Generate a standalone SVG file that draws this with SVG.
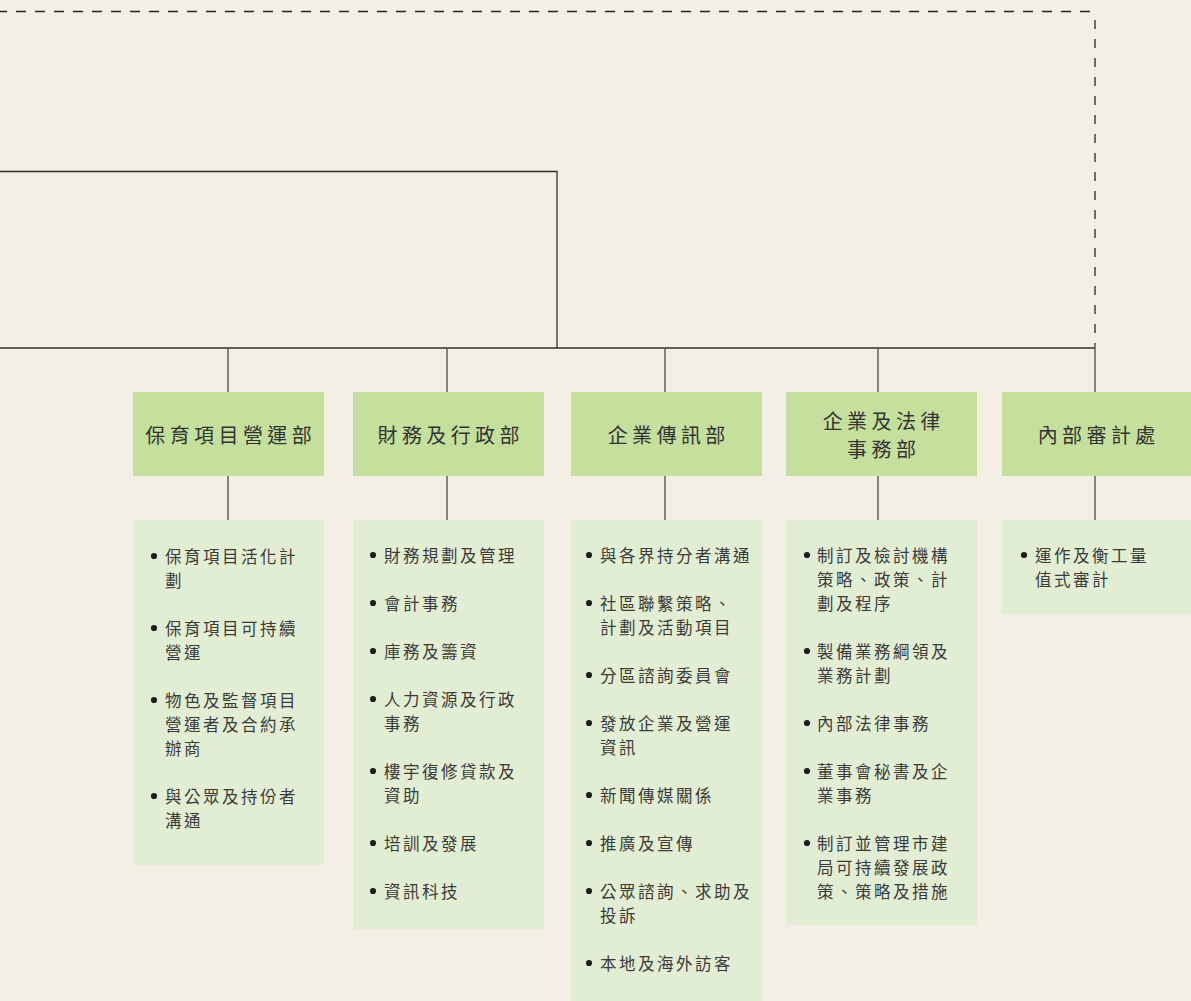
<svg xmlns="http://www.w3.org/2000/svg" width="1191" height="1001" viewBox="0 0 1191 1001">
  <style>
    .bg { fill: #f3efe4; }
    .head { fill: #c5df9d; }
    .list { fill: #e2eed3; }
    .line { stroke: #2e2e2e; stroke-width: 1.3; fill: none; }
    .dash-h { stroke: #222; stroke-width: 1.5; fill: none; stroke-dasharray: 10 9; stroke-dashoffset: 3; }
    .dash-v { stroke: #5e5e5e; stroke-width: 1.8; fill: none; stroke-dasharray: 9 10; stroke-dashoffset: 10; }
    .vline { stroke: #555; stroke-width: 1.4; fill: none; }
    .ht { font-family: "Noto Sans CJK TC", "Noto Sans CJK SC", sans-serif; font-size: 20px; letter-spacing: 4.4px; fill: #333; text-anchor: middle; dominant-baseline: central; }
    .lt { font-family: "Noto Sans CJK TC", "Noto Sans CJK SC", sans-serif; font-size: 16.5px; letter-spacing: 2.5px; fill: #3a3a3a; dominant-baseline: central; }
    .dot { fill: #1e1e1e; }
  </style>

  <rect class="bg" x="0" y="0" width="1191" height="1001"/>

  <g id="connectors">
    <line class="dash-h" x1="0" y1="11.5" x2="1095" y2="11.5"/>
    <line class="dash-v" x1="1095" y1="11" x2="1095" y2="345"/>
    <line class="vline" x1="1095" y1="345" x2="1095" y2="392"/>
    <polyline class="line" points="0,171.5 557,171.5 557,348"/>
    <line class="line" x1="0" y1="348" x2="1095" y2="348"/>
    <line class="vline" x1="228" y1="348" x2="228" y2="392"/>
    <line class="vline" x1="447" y1="348" x2="447" y2="392"/>
    <line class="vline" x1="665" y1="348" x2="665" y2="392"/>
    <line class="vline" x1="878" y1="348" x2="878" y2="392"/>
    <line class="vline" x1="228" y1="476" x2="228" y2="520"/>
    <line class="vline" x1="447" y1="476" x2="447" y2="520"/>
    <line class="vline" x1="665" y1="476" x2="665" y2="520"/>
    <line class="vline" x1="878" y1="476" x2="878" y2="520"/>
    <line class="vline" x1="1095" y1="476" x2="1095" y2="520"/>
  </g>

  <!-- Conservation project operations -->
  <g id="dept-conservation">
    <rect class="head" x="133" y="392" width="191" height="84"/>
    <text class="ht" x="230.7" y="434">保育項目營運部</text>
    <rect class="list" x="133" y="520" width="191" height="345"/>
    <circle class="dot" cx="154" cy="556" r="3.1"/>
    <text class="lt" x="165" y="556">保育項目活化計</text>
    <text class="lt" x="165" y="580">劃</text>
    <circle class="dot" cx="154" cy="628" r="3.1"/>
    <text class="lt" x="165" y="628">保育項目可持續</text>
    <text class="lt" x="165" y="652">營運</text>
    <circle class="dot" cx="154" cy="700" r="3.1"/>
    <text class="lt" x="165" y="700">物色及監督項目</text>
    <text class="lt" x="165" y="724">營運者及合約承</text>
    <text class="lt" x="165" y="748">辦商</text>
    <circle class="dot" cx="154" cy="796" r="3.1"/>
    <text class="lt" x="165" y="796">與公眾及持份者</text>
    <text class="lt" x="165" y="820">溝通</text>
  </g>

  <!-- Finance and administration -->
  <g id="dept-finance">
    <rect class="head" x="353" y="392" width="191" height="84"/>
    <text class="ht" x="450.7" y="434">財務及行政部</text>
    <rect class="list" x="353" y="520" width="191" height="409"/>
    <circle class="dot" cx="373" cy="555" r="3.1"/>
    <text class="lt" x="384" y="555">財務規劃及管理</text>
    <circle class="dot" cx="373" cy="603" r="3.1"/>
    <text class="lt" x="384" y="603">會計事務</text>
    <circle class="dot" cx="373" cy="651" r="3.1"/>
    <text class="lt" x="384" y="651">庫務及籌資</text>
    <circle class="dot" cx="373" cy="699" r="3.1"/>
    <text class="lt" x="384" y="699">人力資源及行政</text>
    <text class="lt" x="384" y="723">事務</text>
    <circle class="dot" cx="373" cy="771" r="3.1"/>
    <text class="lt" x="384" y="771">樓宇復修貸款及</text>
    <text class="lt" x="384" y="795">資助</text>
    <circle class="dot" cx="373" cy="843" r="3.1"/>
    <text class="lt" x="384" y="843">培訓及發展</text>
    <circle class="dot" cx="373" cy="891" r="3.1"/>
    <text class="lt" x="384" y="891">資訊科技</text>
  </g>

  <!-- Corporate communications -->
  <g id="dept-communications">
    <rect class="head" x="571" y="392" width="191" height="84"/>
    <text class="ht" x="668.7" y="434">企業傳訊部</text>
    <rect class="list" x="571" y="520" width="191" height="481"/>
    <circle class="dot" cx="589" cy="555" r="3.1"/>
    <text class="lt" x="600" y="555">與各界持分者溝通</text>
    <circle class="dot" cx="589" cy="603" r="3.1"/>
    <text class="lt" x="600" y="603">社區聯繫策略、</text>
    <text class="lt" x="600" y="627">計劃及活動項目</text>
    <circle class="dot" cx="589" cy="675" r="3.1"/>
    <text class="lt" x="600" y="675">分區諮詢委員會</text>
    <circle class="dot" cx="589" cy="723" r="3.1"/>
    <text class="lt" x="600" y="723">發放企業及營運</text>
    <text class="lt" x="600" y="747">資訊</text>
    <circle class="dot" cx="589" cy="795" r="3.1"/>
    <text class="lt" x="600" y="795">新聞傳媒關係</text>
    <circle class="dot" cx="589" cy="843" r="3.1"/>
    <text class="lt" x="600" y="843">推廣及宣傳</text>
    <circle class="dot" cx="589" cy="891" r="3.1"/>
    <text class="lt" x="600" y="891">公眾諮詢、求助及</text>
    <text class="lt" x="600" y="915">投訴</text>
    <circle class="dot" cx="589" cy="963" r="3.1"/>
    <text class="lt" x="600" y="963">本地及海外訪客</text>
  </g>

  <!-- Corporate and legal affairs -->
  <g id="dept-legal">
    <rect class="head" x="786" y="392" width="191" height="84"/>
    <text class="ht" x="883.7" y="420">企業及法律</text>
    <text class="ht" x="883.7" y="448">事務部</text>
    <rect class="list" x="786" y="520" width="191" height="405"/>
    <circle class="dot" cx="807" cy="555" r="3.1"/>
    <text class="lt" x="817" y="555">制訂及檢討機構</text>
    <text class="lt" x="817" y="579">策略、政策、計</text>
    <text class="lt" x="817" y="603">劃及程序</text>
    <circle class="dot" cx="807" cy="651" r="3.1"/>
    <text class="lt" x="817" y="651">製備業務綱領及</text>
    <text class="lt" x="817" y="675">業務計劃</text>
    <circle class="dot" cx="807" cy="723" r="3.1"/>
    <text class="lt" x="817" y="723">內部法律事務</text>
    <circle class="dot" cx="807" cy="771" r="3.1"/>
    <text class="lt" x="817" y="771">董事會秘書及企</text>
    <text class="lt" x="817" y="795">業事務</text>
    <circle class="dot" cx="807" cy="843" r="3.1"/>
    <text class="lt" x="817" y="843">制訂並管理市建</text>
    <text class="lt" x="817" y="867">局可持續發展政</text>
    <text class="lt" x="817" y="891">策、策略及措施</text>
  </g>

  <!-- Internal audit -->
  <g id="dept-audit">
    <rect class="head" x="1002" y="392" width="189" height="84"/>
    <text class="ht" x="1098.7" y="434">內部審計處</text>
    <rect class="list" x="1002" y="520" width="189" height="94"/>
    <circle class="dot" cx="1024" cy="555" r="3.1"/>
    <text class="lt" x="1035" y="555">運作及衡工量</text>
    <text class="lt" x="1035" y="579">值式審計</text>
  </g>
</svg>
